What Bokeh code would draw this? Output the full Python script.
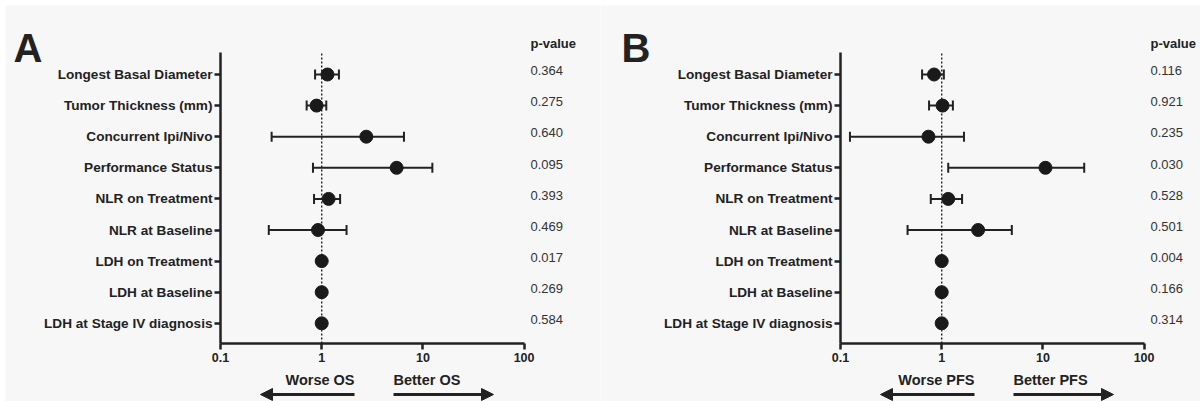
from bokeh.plotting import figure
from bokeh.models import (Range1d, LogAxis, LinearAxis, FixedTicker, CustomJSTickFormatter,
                          Whisker, TeeHead, ColumnDataSource, Label, Arrow, NormalHead)
from bokeh.layouts import row
from bokeh.embed import file_html
from bokeh.resources import INLINE
from bokeh.core.properties import value

# ---------------- data ----------------
variables = ["Longest Basal Diameter", "Tumor Thickness (mm)", "Concurrent Ipi/Nivo",
             "Performance Status", "NLR on Treatment", "NLR at Baseline",
             "LDH on Treatment", "LDH at Baseline", "LDH at Stage IV diagnosis"]

os_hr = [1.14, 0.89, 2.76, 5.5, 1.17, 0.92, 1.0, 1.0, 1.0]
os_lo = [0.86, 0.71, 0.32, 0.82, 0.84, 0.30, 0.995, 0.995, 0.995]
os_hi = [1.48, 1.11, 6.5, 12.4, 1.52, 1.76, 1.005, 1.005, 1.005]
os_p = ["0.364", "0.275", "0.640", "0.095", "0.393", "0.469", "0.017", "0.269", "0.584"]

pfs_hr = [0.84, 1.02, 0.74, 10.6, 1.16, 2.29, 1.0, 1.0, 1.0]
pfs_lo = [0.64, 0.75, 0.124, 1.16, 0.78, 0.46, 0.995, 0.995, 0.995]
pfs_hi = [1.05, 1.29, 1.66, 25.6, 1.59, 4.93, 1.005, 1.005, 1.005]
pfs_p = ["0.116", "0.921", "0.235", "0.030", "0.528", "0.501", "0.004", "0.166", "0.314"]

x_ticks = [0.1, 1, 10, 100]
ref_value = 1.0

# ---------------- layout constants (pixels) ----------------
W, H = 600, 401
ROW0_PX = 74.0
ROW_STEP = 31.1
DECADE_PX = 101.2
XAXIS_PX = 343.0
YAXIS_TOP_PX = 52.0
INK = "#222222"
FONT = "Liberation Sans"


def make_panel(letter, hr, lo, hi, pv, worse, better, axis_px, left_border, letter_px):
    n = len(variables)
    ypos = list(range(n, 0, -1))

    def px2x(px):
        return x_ticks[0] * 10 ** ((px - axis_px) / DECADE_PX)

    def py2y(py):
        return n - (py - ROW0_PX) / ROW_STEP

    p = figure(width=W, height=H, x_axis_type="log",
               x_range=Range1d(px2x(left_border), px2x(W)),
               y_range=Range1d(py2y(H), py2y(5)),
               x_axis_location=None, y_axis_location=None,
               toolbar_location=None, output_backend="svg",
               min_border=0, min_border_left=left_border, min_border_top=5,
               min_border_right=0, min_border_bottom=0,
               background_fill_color="#f7f7f7", border_fill_color="white",
               outline_line_color=None)
    p.grid.grid_line_color = None

    y_bottom = py2y(XAXIS_PX)
    y_top = py2y(YAXIS_TOP_PX)

    xaxis = LogAxis(fixed_location=y_bottom, bounds=(x_ticks[0], x_ticks[-1]),
                    ticker=FixedTicker(ticks=x_ticks),
                    formatter=CustomJSTickFormatter(code="return String(tick)"),
                    axis_line_width=2.5, axis_line_color=INK,
                    major_tick_out=6, major_tick_in=0, major_tick_line_width=2.5,
                    major_tick_line_color=INK, minor_tick_out=0, minor_tick_in=0,
                    major_label_text_font=FONT, major_label_text_font_style="bold",
                    major_label_text_font_size="12.5px", major_label_text_color=INK,
                    major_label_standoff=3)
    p.add_layout(xaxis, "below")

    yaxis = LinearAxis(fixed_location=x_ticks[0], bounds=(y_bottom, y_top),
                       ticker=FixedTicker(ticks=ypos),
                       major_label_overrides={y: name for y, name in zip(ypos, variables)},
                       axis_line_width=2.5, axis_line_color=INK,
                       major_tick_out=6, major_tick_in=0, major_tick_line_width=2.5,
                       major_tick_line_color=INK, minor_tick_out=0, minor_tick_in=0,
                       major_label_text_font=FONT, major_label_text_font_style="bold",
                       major_label_text_font_size="13.6px", major_label_text_color=INK,
                       major_label_standoff=2)
    p.add_layout(yaxis, "left")

    # reference line at HR = 1
    p.segment(x0=[ref_value], y0=[y_bottom], x1=[ref_value], y1=[y_top],
              line_color="#222222", line_width=1.4, line_dash="2 2")

    src = ColumnDataSource(dict(y=ypos, hr=hr, lo=lo, hi=hi, pv=pv,
                                py=[y + 0.12 for y in ypos],
                                px=[px2x(axis_px + 310)] * n))
    head = dict(size=10, line_width=2, line_color=INK)
    p.add_layout(Whisker(source=src, base="y", lower="lo", upper="hi", dimension="width",
                         line_width=2, line_color=INK,
                         upper_head=TeeHead(**head), lower_head=TeeHead(**head)))
    p.scatter(x="hr", y="y", source=src, size=13, fill_color="#1a1a1a",
              line_color="#1a1a1a")

    p.text(x="px", y="py", text="pv", source=src, text_font=value(FONT),
           text_font_size="13px", text_color="#333333",
           text_baseline="middle", text_align="left")

    p.add_layout(Label(x=px2x(axis_px + 310), y=py2y(43), text="p-value",
                       text_font=FONT, text_font_style="bold", text_font_size="13px",
                       text_color=INK, text_baseline="middle", text_align="left"))
    p.add_layout(Label(x=px2x(letter_px), y=py2y(47), text=letter,
                       text_font=FONT, text_font_style="bold", text_font_size="40px",
                       text_color=INK, text_baseline="alphabetic", text_align="left"))

    p.add_layout(Label(x=px2x(axis_px + 134), y=py2y(379), text=worse,
                       text_font=FONT, text_font_style="bold", text_font_size="14.5px",
                       text_color=INK, text_baseline="middle", text_align="right"))
    p.add_layout(Label(x=px2x(axis_px + 173), y=py2y(379), text=better,
                       text_font=FONT, text_font_style="bold", text_font_size="14.5px",
                       text_color=INK, text_baseline="middle", text_align="left"))

    ya = py2y(394)
    p.add_layout(Arrow(x_start=px2x(axis_px + 134), x_end=px2x(axis_px + 40),
                       y_start=ya, y_end=ya, line_width=3, line_color=INK,
                       end=NormalHead(size=12, fill_color=INK, line_color=INK)))
    p.add_layout(Arrow(x_start=px2x(axis_px + 173), x_end=px2x(axis_px + 273),
                       y_start=ya, y_end=ya, line_width=3, line_color=INK,
                       end=NormalHead(size=12, fill_color=INK, line_color=INK)))
    return p


pA = make_panel("A", os_hr, os_lo, os_hi, os_p, "Worse OS", "Better OS",
                axis_px=220, left_border=5, letter_px=13)
pB = make_panel("B", pfs_hr, pfs_lo, pfs_hi, pfs_p, "Worse PFS", "Better PFS",
                axis_px=240, left_border=0, letter_px=21)

layout = row(pA, pB, spacing=0)
open("out.html", "w").write(file_html(layout, INLINE))
